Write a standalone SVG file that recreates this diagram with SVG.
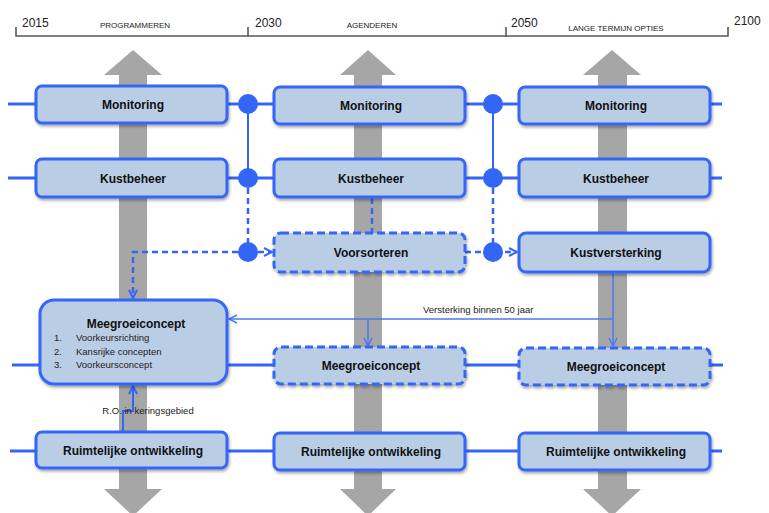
<svg xmlns="http://www.w3.org/2000/svg" width="769" height="513" viewBox="0 0 769 513">
<style>
.tl{fill:none;stroke:#5a5a5a;stroke-width:1.6}
.yr{font-family:"Liberation Sans",Arial,sans-serif;font-size:12px;fill:#222}
.ph{font-family:"Liberation Sans",Arial,sans-serif;font-size:8px;fill:#222;text-anchor:middle}
.gray{fill:#a6a6a6}
.box{fill:#b9cde5;stroke:#3466f6;stroke-width:3}
.dbox{fill:#b9cde5;stroke:#3466f6;stroke-width:3;stroke-dasharray:8 4}
.lbl{font-family:"Liberation Sans",Arial,sans-serif;font-size:12px;font-weight:bold;fill:#111;text-anchor:middle}
.sm{font-family:"Liberation Sans",Arial,sans-serif;font-size:9.5px;fill:#222}
.ln{fill:none;stroke:#3466f6;stroke-width:3}
.vl{fill:none;stroke:#3466f6;stroke-width:2}
.dl{fill:none;stroke:#3466f6;stroke-width:2.5;stroke-dasharray:6 4}
.th{fill:none;stroke:#4a78f4;stroke-width:1.5}
.dot{fill:#3466f6}
</style>
<defs>
<filter id="sh" x="-10%" y="-20%" width="120%" height="150%">
<feDropShadow dx="1" dy="2" stdDeviation="1.5" flood-color="#000" flood-opacity="0.35"/>
</filter>
<marker id="ar" viewBox="0 0 10 10" refX="9" refY="5" markerWidth="10" markerHeight="10" markerUnits="userSpaceOnUse" orient="auto">
<path d="M1,1 L9,5 L1,9" fill="none" stroke="#3466f6" stroke-width="2" stroke-dasharray="none"/>
</marker>
<marker id="ar2" viewBox="0 0 10 10" refX="9" refY="5" markerWidth="10" markerHeight="10" markerUnits="userSpaceOnUse" orient="auto">
<path d="M1,1 L9,5 L1,9" fill="none" stroke="#4a78f4" stroke-width="1.5"/>
</marker>
</defs>
<rect width="769" height="513" fill="#fff"/>

<g id="timeline">
<path class="tl" d="M16,27 V36 H728 V27 M248,27 V37 M506,27 V37"/>
<text class="yr" x="22" y="27">2015</text>
<text class="ph" x="135" y="28">PROGRAMMEREN</text>
<text class="yr" x="255" y="27">2030</text>
<text class="ph" x="372" y="28">AGENDEREN</text>
<text class="yr" x="511" y="27">2050</text>
<text class="ph" x="616" y="31">LANGE TERMIJN OPTIES</text>
<text class="yr" x="734" y="25">2100</text>
</g>

<g id="gray-arrows">
<polygon class="gray" points="119,75 104,75 133,50 162,75 147,75 147,489 162,489 133,516 104,489 119,489"/>
<polygon class="gray" points="354,75 340,75 368,50 396,75 382,75 382,489 396,489 368,516 340,489 354,489"/>
<polygon class="gray" points="598,75 583,75 612,50 641,75 627,75 627,489 641,489 612,516 583,489 598,489"/>
</g>

<g id="connectors">
<path class="ln" d="M8,104 H36 M227,104 H274 M465,104 H519 M710,104 H722"/>
<path class="ln" d="M8,178 H36 M227,178 H274 M465,178 H519 M710,178 H722"/>
<path class="ln" d="M12,365 H40 M227,365 H274 M465,365 H519 M710,365 H723"/>
<path class="ln" d="M10,451 H36 M227,451 H274 M465,451 H519 M710,451 H722"/>
<path class="vl" d="M248,104 V178 M493,104 V178"/>
<path class="dl" d="M248,178 V252 M493,178 V252 M372,198 V233"/>
<path class="dl" d="M248,252 H272" marker-end="url(#ar)"/>
<path class="dl" d="M465,252 H493 H517" marker-end="url(#ar)"/>
<path class="dl" d="M248,252 H133 V298" marker-end="url(#ar)"/>
<path class="th" d="M613,273 V346" marker-end="url(#ar2)"/>
<path class="th" d="M613,319 H229" marker-end="url(#ar2)"/>
<path class="th" d="M368,319 V346" marker-end="url(#ar2)"/>
<path class="vl" d="M123,431 V411 H133 V386" marker-end="url(#ar)"/>
<circle class="dot" cx="248" cy="104" r="10"/>
<circle class="dot" cx="248" cy="178" r="10"/>
<circle class="dot" cx="248" cy="252" r="10"/>
<circle class="dot" cx="493" cy="104" r="10"/>
<circle class="dot" cx="493" cy="178" r="10"/>
<circle class="dot" cx="493" cy="252" r="10"/>
<text class="sm" x="423" y="313">Versterking binnen 50 jaar</text>
<text class="sm" x="148" y="414" text-anchor="middle">R.O. in keringsgebied</text>
</g>

<g id="monitoring-1"><rect class="box" filter="url(#sh)" x="36" y="86" width="191" height="37" rx="6"/><text class="lbl" x="133" y="109">Monitoring</text></g>
<g id="monitoring-2"><rect class="box" filter="url(#sh)" x="274" y="87" width="191" height="37" rx="6"/><text class="lbl" x="371" y="110">Monitoring</text></g>
<g id="monitoring-3"><rect class="box" filter="url(#sh)" x="519" y="87" width="191" height="37" rx="6"/><text class="lbl" x="616" y="110">Monitoring</text></g>

<g id="kustbeheer-1"><rect class="box" filter="url(#sh)" x="36" y="159" width="191" height="38" rx="6"/><text class="lbl" x="133" y="183">Kustbeheer</text></g>
<g id="kustbeheer-2"><rect class="box" filter="url(#sh)" x="274" y="159" width="191" height="38" rx="6"/><text class="lbl" x="371" y="183">Kustbeheer</text></g>
<g id="kustbeheer-3"><rect class="box" filter="url(#sh)" x="519" y="159" width="191" height="38" rx="6"/><text class="lbl" x="616" y="183">Kustbeheer</text></g>

<g id="voorsorteren"><rect class="dbox" filter="url(#sh)" x="274" y="233" width="191" height="39" rx="7"/><text class="lbl" x="371" y="257">Voorsorteren</text></g>
<g id="kustversterking"><rect class="box" filter="url(#sh)" x="519" y="233" width="191" height="39" rx="7"/><text class="lbl" x="616" y="257">Kustversterking</text></g>

<g id="meegroeiconcept-1">
<rect class="box" filter="url(#sh)" x="40" y="300" width="187" height="84" rx="14"/>
<text class="lbl" x="136" y="328">Meegroeiconcept</text>
<text class="sm" x="54" y="341">1.</text><text class="sm" x="76" y="341">Voorkeursrichting</text>
<text class="sm" x="54" y="355">2.</text><text class="sm" x="76" y="355">Kansrijke concepten</text>
<text class="sm" x="54" y="368">3.</text><text class="sm" x="76" y="368">Voorkeursconcept</text>
</g>
<g id="meegroeiconcept-2"><rect class="dbox" filter="url(#sh)" x="274" y="347" width="191" height="37" rx="7"/><text class="lbl" x="371" y="370">Meegroeiconcept</text></g>
<g id="meegroeiconcept-3"><rect class="dbox" filter="url(#sh)" x="519" y="348" width="191" height="37" rx="7"/><text class="lbl" x="616" y="371">Meegroeiconcept</text></g>

<g id="ruimtelijke-1"><rect class="box" filter="url(#sh)" x="36" y="432" width="191" height="36" rx="6"/><text class="lbl" x="133" y="455">Ruimtelijke ontwikkeling</text></g>
<g id="ruimtelijke-2"><rect class="box" filter="url(#sh)" x="274" y="433" width="191" height="37" rx="6"/><text class="lbl" x="371" y="456">Ruimtelijke ontwikkeling</text></g>
<g id="ruimtelijke-3"><rect class="box" filter="url(#sh)" x="519" y="433" width="191" height="37" rx="6"/><text class="lbl" x="616" y="456">Ruimtelijke ontwikkeling</text></g>
</svg>
